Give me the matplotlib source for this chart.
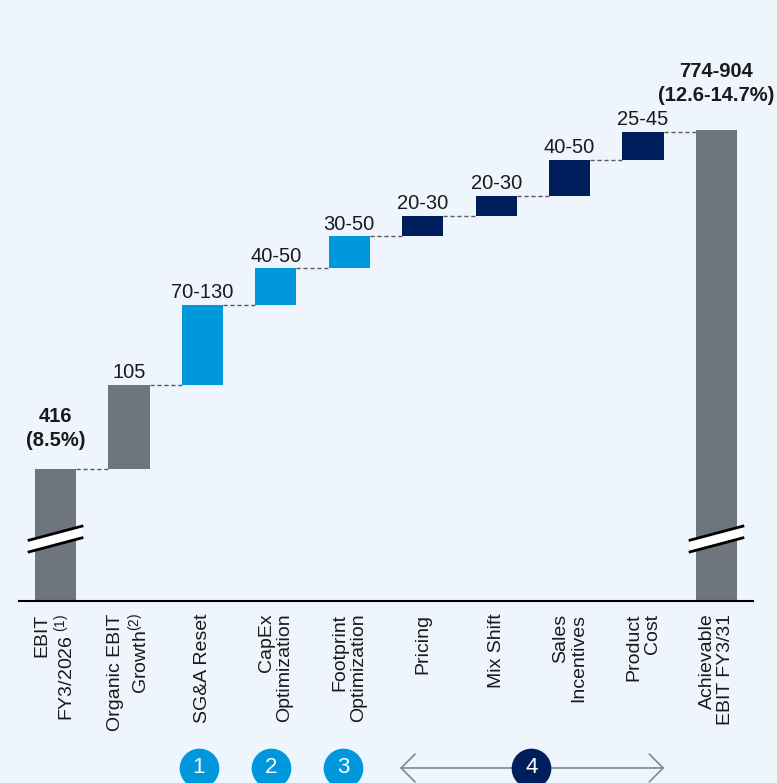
import matplotlib
matplotlib.use("Agg")
import matplotlib.pyplot as plt
import numpy as np
from matplotlib.patches import Polygon

plt.rcParams['font.family'] = ['Liberation Sans', 'DejaVu Sans']
plt.rcParams['mathtext.fontset'] = 'custom'
plt.rcParams['mathtext.rm'] = 'Liberation Sans'

# waterfall data (EBIT bridge)
categories = ["EBIT\nFY3/2026$^{\\ (1)}$", "Organic EBIT\nGrowth$^{(2)}$", "SG&A Reset",
              "CapEx\nOptimization", "Footprint\nOptimization", "Pricing", "Mix Shift",
              "Sales\nIncentives", "Product\nCost", "Achievable\nEBIT FY3/31"]
start_value = 416
step_low = [105, 70, 40, 30, 20, 20, 40, 25]
step_high = [105, 130, 50, 50, 30, 30, 50, 45]
end_low, end_high = 774, 904
value_labels = ["416\n(8.5%)", "105", "70-130", "40-50", "30-50", "20-30", "20-30",
                "40-50", "25-45", "774-904\n(12.6-14.7%)"]
step_groups = [0, 1, 2, 3, 4, 4, 4, 4]   # 0 = organic, 1-3 = levers, 4 = commercial levers
group_names = ["1", "2", "3", "4"]

bg = "#eef5fc"
gray = "#6e757d"
light_blue = "#0098dc"
navy = "#001e5c"
text_col = "#1a1a1a"

steps = (np.array(step_low) + np.array(step_high)) / 2
end_value = (end_low + end_high) / 2
tops = start_value + np.cumsum(steps)
bottoms = tops - steps

ymin, ymax = 251.5, 1000.5
x = np.arange(len(categories))
w = 0.56

fig = plt.figure(figsize=(7.77, 7.83), dpi=100, facecolor=bg)
ax = fig.add_axes([0, 182 / 783, 1, 601 / 783], facecolor=bg)
ax.set_xlim(-0.756, 9.824)
ax.set_ylim(ymin, ymax)

step_colors = [gray if g == 0 else (light_blue if g < 4 else navy) for g in step_groups]

ax.bar(x[0], start_value - ymin, bottom=ymin, width=w, color=gray, zorder=2)
ax.bar(x[1:-1], steps, bottom=bottoms, width=w, color=step_colors, zorder=2)
ax.bar(x[-1], end_value - ymin, bottom=ymin, width=w, color=gray, zorder=2)

# dashed connectors between consecutive bars
levels = np.concatenate([[start_value], tops])
for i, lvl in enumerate(levels):
    ax.plot([x[i] + w / 2, x[i + 1] - w / 2], [lvl, lvl], color="#555a60",
            lw=1, ls=(0, (3, 2)), zorder=1)

# value labels
for i in range(1, len(x) - 1):
    ax.annotate(value_labels[i], (x[i], tops[i - 1]), xytext=(0, 2),
                textcoords="offset points", ha="center", va="bottom",
                fontsize=14.5, color=text_col)
ax.annotate(value_labels[0], (x[0], start_value), xytext=(0, 14),
            textcoords="offset points", ha="center", va="bottom",
            fontsize=14.5, fontweight="bold", color=text_col, linespacing=1.3)
ax.annotate(value_labels[-1], (x[-1], end_value), xytext=(0, 18),
            textcoords="offset points", ha="center", va="bottom",
            fontsize=14.5, fontweight="bold", color=text_col, linespacing=1.3)

# axis break marks on the start and end bars
for c in (x[0], x[-1]):
    yl, yr, hw = 320.0, 337.5, 7.3
    poly = Polygon([(c - 0.36, yl + hw), (c + 0.36, yr + hw),
                    (c + 0.36, yr - hw), (c - 0.36, yl - hw)],
                   closed=True, facecolor="white", edgecolor="none", zorder=3)
    ax.add_patch(poly)
    ax.plot([c - 0.36, c + 0.36], [yl + hw, yr + hw], color="black", lw=2, zorder=4)
    ax.plot([c - 0.36, c + 0.36], [yl - hw, yr - hw], color="black", lw=2, zorder=4)

# baseline
ax.plot([-0.5, 9.5], [ymin, ymin], color="black", lw=1.5, clip_on=False, zorder=5)

for s in ax.spines.values():
    s.set_visible(False)
ax.set_yticks([])
ax.set_xticks(x)
ax.set_xticklabels(categories, rotation=90, ha="center", va="top",
                   multialignment="right", fontsize=14, color=text_col,
                   linespacing=1.1)
ax.tick_params(axis="x", length=0, pad=9)

# lever markers below the axis
marker_y = 43.4
for xi, name in zip([1.953, 2.93, 3.915], group_names[:3]):
    ax.scatter([xi], [marker_y], s=760, color=light_blue, clip_on=False, zorder=6)
    ax.text(xi, marker_y, name, ha="center", va="center", fontsize=16,
            color="white", zorder=7, clip_on=False)

ax.annotate("", xy=(4.69, marker_y), xytext=(8.29, marker_y),
            arrowprops=dict(arrowstyle="<->,head_length=0.5,head_width=0.5",
                            mutation_scale=20, color="#80878f", lw=1.2,
                            shrinkA=0, shrinkB=0),
            annotation_clip=False, zorder=5)
ax.scatter([6.48], [marker_y], s=760, color=navy, clip_on=False, zorder=6)
ax.text(6.48, marker_y, group_names[3], ha="center", va="center", fontsize=16,
        color="white", zorder=7, clip_on=False)

fig.savefig("out.png", dpi=100, facecolor=bg)
